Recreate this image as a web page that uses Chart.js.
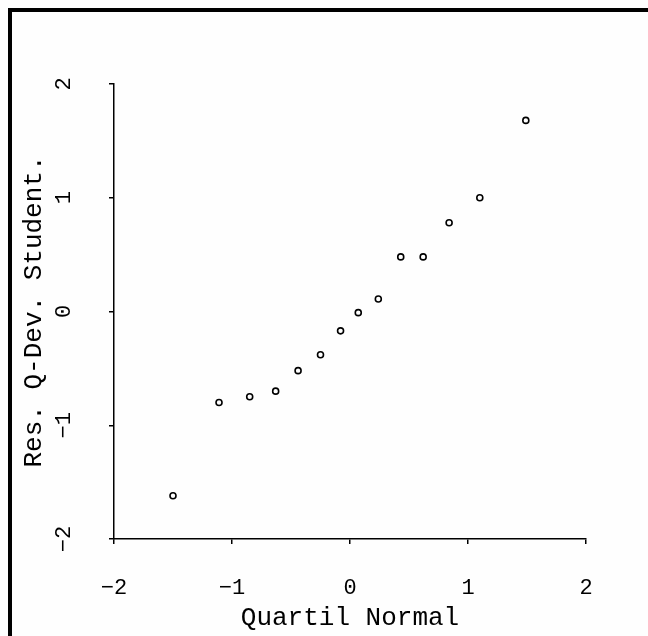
<!DOCTYPE html>
<html>
<head>
<meta charset="utf-8">
<script src="https://cdn.jsdelivr.net/npm/chart.js@4/dist/chart.umd.min.js"></script>
<style>
  html, body { margin: 0; padding: 0; background: #fefefe; overflow: hidden; }
  #wrap { position: relative; width: 648px; height: 636px; }
  #frame {
    position: absolute; left: 8px; top: 8px;
    width: 700px; height: 700px;
    border: 4px solid #000; pointer-events: none;
  }
  canvas { position: absolute; left: 0; top: 0; }
</style>
</head>
<body>
<div id="wrap">
  <div id="frame"></div>
  <canvas id="qqCanvas" width="648" height="636"></canvas>
</div>
<script>
/* =========================
   Normal Q-Q plot of studentized residuals
   ========================= */

const quantiles = [-1.50, -1.11, -0.85, -0.63, -0.44, -0.25, -0.08, 0.07, 0.24, 0.43, 0.62, 0.84, 1.10, 1.49];
const residuals = [-1.62, -0.80, -0.75, -0.70, -0.52, -0.38, -0.17, -0.01, 0.11, 0.48, 0.48, 0.78, 1.00, 1.68];

const xTicks = [-2, -1, 0, 1, 2];
const yTicks = [-2, -1, 0, 1, 2];

const xTitle = "Quartil Normal";
const yTitle = "Res. Q-Dev. Student.";

const MONO = "'Liberation Mono', 'DejaVu Sans Mono', monospace";

// y tick labels are rotated (read upwards), Chart.js won't rotate vertical-axis labels
const rotatedYLabels = {
  id: "rotatedYLabels",
  afterDraw(chart) {
    const sc = chart.scales.y;
    const ctx = chart.ctx;
    ctx.save();
    ctx.fillStyle = "#000";
    ctx.font = "22px " + MONO;
    ctx.textAlign = "center";
    ctx.textBaseline = "middle";
    for (const v of yTicks) {
      const py = sc.getPixelForValue(v);
      ctx.save();
      ctx.translate(64, py);
      ctx.rotate(-Math.PI / 2);
      ctx.fillText(String(v).replace("-", "\u2212"), 0, 0);
      ctx.restore();
    }
    ctx.restore();
  }
};

const ctx = document.getElementById("qqCanvas").getContext("2d");

new Chart(ctx, {
  type: "scatter",
  data: {
    datasets: [{
      data: quantiles.map((q, i) => ({ x: q, y: residuals[i] })),
      pointStyle: "circle",
      pointRadius: 3,
      pointBorderWidth: 1.6,
      borderColor: "#000",
      backgroundColor: "#fff"
    }]
  },
  options: {
    responsive: false,
    animation: false,
    layout: { padding: { left: 0, top: 84, right: 62, bottom: 0 } },
    plugins: {
      legend: { display: false },
      tooltip: { enabled: false }
    },
    scales: {
      x: {
        type: "linear",
        min: -2, max: 2,
        afterBuildTicks: (s) => { s.ticks = xTicks.map(v => ({ value: v })); },
        afterFit: (s) => { s.height = 97; },
        grid: { drawOnChartArea: false, tickLength: 5, color: "#000", lineWidth: 1.5 },
        border: { color: "#000", width: 1.5 },
        ticks: {
          color: "#000",
          padding: 31,
          font: { family: MONO, size: 22 },
          callback: (v) => String(v).replace("-", "\u2212")
        },
        title: {
          display: true,
          text: xTitle,
          color: "#000",
          font: { family: MONO, size: 26 },
          padding: { top: 0, bottom: 2 }
        }
      },
      y: {
        type: "linear",
        min: -2, max: 2,
        afterBuildTicks: (s) => { s.ticks = yTicks.map(v => ({ value: v })); },
        afterFit: (s) => { s.width = 114; },
        grid: { drawOnChartArea: false, tickLength: 5, color: "#000", lineWidth: 1.5 },
        border: { color: "#000", width: 1.5 },
        ticks: { display: false },
        title: {
          display: true,
          text: yTitle,
          color: "#000",
          font: { family: MONO, size: 26 },
          padding: { top: 19, bottom: 0 }
        }
      }
    }
  },
  plugins: [rotatedYLabels]
});
</script>
</body>
</html>
